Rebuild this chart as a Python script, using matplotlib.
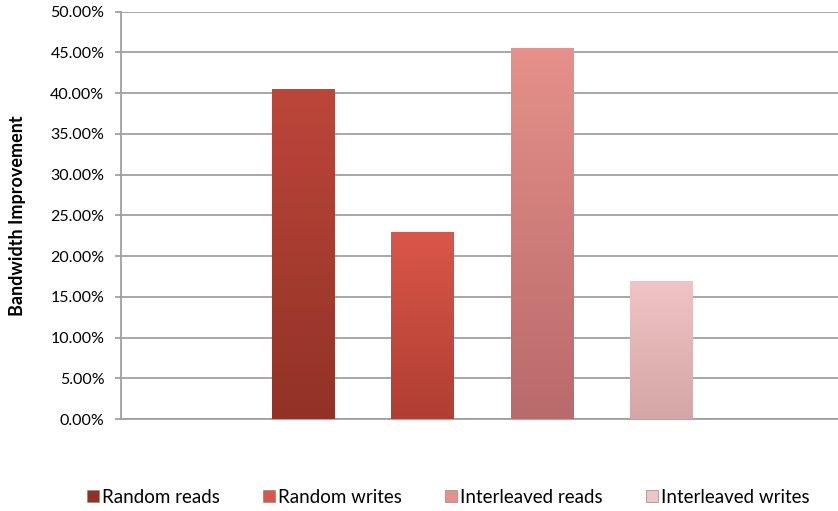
import numpy as np
import matplotlib
matplotlib.use("Agg")
import matplotlib.pyplot as plt
from matplotlib.ticker import FuncFormatter
from matplotlib.colors import LinearSegmentedColormap

# data
series = ["Random reads", "Random writes", "Interleaved reads", "Interleaved writes"]
values = [40.5, 22.9, 45.5, 17.0]
yticks = [0, 5, 10, 15, 20, 25, 30, 35, 40, 45, 50]

# colour at the top / bottom of each bar
tops = ["#bd463a", "#d9574a", "#e5908a", "#f0c4c4"]
bottoms = ["#923226", "#b13e32", "#b96a6a", "#d4a6a6"]

plt.rcParams['font.family'] = ['Lato', 'DejaVu Sans']

fig = plt.figure(figsize=(8.38, 5.11), dpi=100)
ax = fig.add_axes([0.1444, 0.180, 0.8556, 0.797])

x = np.arange(len(series))
bars = ax.bar(x, values, width=0.52, color=tops, edgecolor="#8a8a8a",
              linewidth=0.6, zorder=3, label=None)

ax.set_xlim(-1.52, 4.48)
ax.set_ylim(0, 50)
ax.set_yticks(yticks)
ax.yaxis.set_major_formatter(FuncFormatter(lambda v, p: "%.2f%%" % v))
ax.set_xticks([])

# vertical gradient in each bar
for b, c1, c2 in zip(bars, tops, bottoms):
    cmap = LinearSegmentedColormap.from_list("g", [c2, c1])
    grad = np.linspace(0, 1, 100).reshape(-1, 1)
    x0, y0 = b.get_x(), b.get_y()
    im = ax.imshow(grad, cmap=cmap, aspect="auto", origin="lower",
                   extent=[x0, x0 + b.get_width(), y0, y0 + b.get_height()],
                   zorder=3.5)
    im.set_clip_path(b)

ax.grid(axis="y", color="#a0a0a0", linewidth=1.3, zorder=0)
for s in ["top", "right"]:
    ax.spines[s].set_visible(False)
ax.spines["left"].set_color("#a0a0a0")
ax.spines["bottom"].set_color("#a0a0a0")
ax.spines["left"].set_linewidth(1.3)
ax.spines["bottom"].set_linewidth(1.3)
ax.tick_params(axis="y", length=4, width=1.3, color="#a0a0a0", pad=8,
               labelsize=11.5, labelcolor="black")

ax.set_ylabel("Bandwidth Improvement", fontsize=13, fontweight="bold")
ax.yaxis.set_label_coords(-0.133, 0.5)

handles = [plt.Rectangle((0, 0), 1, 1, facecolor=c, edgecolor="#8a8a8a", linewidth=0.5)
           for c in [bottoms[0], tops[1], tops[2], tops[3]]]
fig.legend(handles, series, loc="center", bbox_to_anchor=(0.535, 0.027), ncol=4,
           frameon=False, fontsize=13.5, handlelength=0.65, handleheight=0.65,
           handletextpad=0.15, columnspacing=2.3)

fig.savefig("out.png", dpi=100)
